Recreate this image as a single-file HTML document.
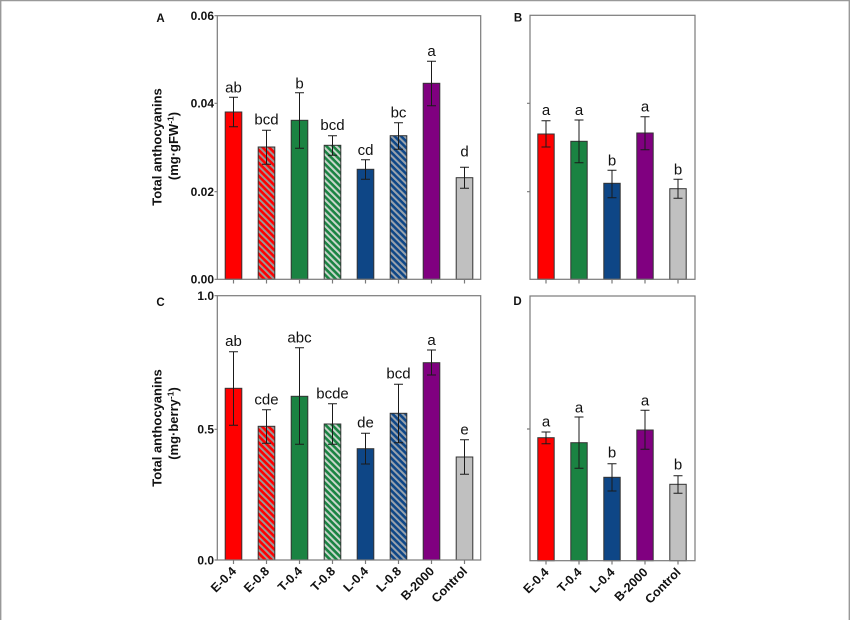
<!DOCTYPE html>
<html><head><meta charset="utf-8"><style>
html,body{margin:0;padding:0;background:#fff;}
svg{display:block;}
text{font-family:"Liberation Sans",Arial,sans-serif;}
</style></head><body>
<svg width="850" height="620" viewBox="0 0 850 620" xmlns="http://www.w3.org/2000/svg">
<defs>
<pattern id="hr" width="4.6" height="4.6" patternUnits="userSpaceOnUse" patternTransform="rotate(-45)">
<rect width="4.6" height="4.6" fill="#ff0000"/><rect width="2" height="4.6" fill="#9a9a9a"/></pattern>
<pattern id="hg" width="4.6" height="4.6" patternUnits="userSpaceOnUse" patternTransform="rotate(-45)">
<rect width="4.6" height="4.6" fill="#1a8342"/><rect width="2" height="4.6" fill="#c9d6cc"/></pattern>
<pattern id="hb" width="4.6" height="4.6" patternUnits="userSpaceOnUse" patternTransform="rotate(-45)">
<rect width="4.6" height="4.6" fill="#0e4686"/><rect width="2" height="4.6" fill="#9aa3ad"/></pattern>
</defs>
<rect width="850" height="620" fill="#fff"/>
<!-- outer border -->
<line x1="0" y1="0.6" x2="850" y2="0.6" stroke="#999" stroke-width="1.3"/>
<line x1="0.7" y1="0" x2="0.7" y2="620" stroke="#999" stroke-width="1.4"/>
<line x1="849.3" y1="0" x2="849.3" y2="620" stroke="#999" stroke-width="1.4"/>

<g stroke="#333" stroke-width="1">
<!-- Panel A bars -->
<rect x="225.2" y="112" width="16.6" height="167.3" fill="#ff0000"/>
<rect x="258.2" y="147" width="16.6" height="132.3" fill="url(#hr)"/>
<rect x="291.2" y="120.3" width="16.6" height="159" fill="#1a8342"/>
<rect x="324.2" y="145.3" width="16.6" height="134" fill="url(#hg)"/>
<rect x="357.2" y="169.3" width="16.6" height="110" fill="#0e4686"/>
<rect x="390.2" y="135.7" width="16.6" height="143.6" fill="url(#hb)"/>
<rect x="423.2" y="83.3" width="16.6" height="196" fill="#800080"/>
<rect x="456.2" y="177.7" width="16.6" height="101.6" fill="#c0c0c0"/>
<!-- Panel C bars -->
<rect x="225.2" y="388.3" width="16.6" height="171.7" fill="#ff0000"/>
<rect x="258.2" y="426.3" width="16.6" height="133.7" fill="url(#hr)"/>
<rect x="291.2" y="396.3" width="16.6" height="163.7" fill="#1a8342"/>
<rect x="324.2" y="424" width="16.6" height="136" fill="url(#hg)"/>
<rect x="357.2" y="448.7" width="16.6" height="111.3" fill="#0e4686"/>
<rect x="390.2" y="413.3" width="16.6" height="146.7" fill="url(#hb)"/>
<rect x="423.2" y="362.7" width="16.6" height="197.3" fill="#800080"/>
<rect x="456.2" y="457" width="16.6" height="103" fill="#c0c0c0"/>
<!-- Panel B bars -->
<rect x="537.8" y="134" width="16.4" height="145.3" fill="#ff0000"/>
<rect x="570.8" y="141.3" width="16.4" height="138" fill="#1a8342"/>
<rect x="603.8" y="183.3" width="16.4" height="96" fill="#0e4686"/>
<rect x="636.8" y="133" width="16.4" height="146.3" fill="#800080"/>
<rect x="669.8" y="188.7" width="16.4" height="90.6" fill="#c0c0c0"/>
<!-- Panel D bars -->
<rect x="537.8" y="437.7" width="16.4" height="123" fill="#ff0000"/>
<rect x="570.8" y="442.7" width="16.4" height="118" fill="#1a8342"/>
<rect x="603.8" y="477.3" width="16.4" height="83.4" fill="#0e4686"/>
<rect x="636.8" y="430" width="16.4" height="130.7" fill="#800080"/>
<rect x="669.8" y="484.3" width="16.4" height="76.4" fill="#c0c0c0"/>
</g>

<!-- frames -->
<g fill="none" stroke="#7a7a7a" stroke-width="1.2">
<rect x="217.3" y="15.7" width="263.4" height="263.6"/>
<rect x="217.3" y="295.7" width="263.4" height="264.3"/>
<rect x="530" y="15.3" width="165" height="264"/>
<rect x="530" y="296" width="165" height="264.7"/>
<!-- ticks -->
<path d="M214.5 15.7H217.3M214.5 103.3H217.3M214.5 191.7H217.3M214.5 279.3H217.3"/>
<path d="M214.5 295.7H217.3M214.5 429.3H217.3M214.5 560H217.3"/>
<path d="M527 103.3H530M527 191.7H530M527 429H530"/>
<path d="M233.5 279.3V283.5M266.5 279.3V283.5M299.5 279.3V283.5M332.5 279.3V283.5M365.5 279.3V283.5M398.5 279.3V283.5M431.5 279.3V283.5M464.5 279.3V283.5"/>
<path d="M233.5 560V564M266.5 560V564M299.5 560V564M332.5 560V564M365.5 560V564M398.5 560V564M431.5 560V564M464.5 560V564"/>
<path d="M546 279.3V283.5M579 279.3V283.5M612 279.3V283.5M645 279.3V283.5M678 279.3V283.5"/>
<path d="M546 560.7V564.5M579 560.7V564.5M612 560.7V564.5M645 560.7V564.5M678 560.7V564.5"/>
</g>

<!-- error bars -->
<g stroke="#1a1a1a" stroke-width="1" fill="none">
<path d="M233.5 97.3V126.7M229 97.3H238M229 126.7H238"/>
<path d="M266.5 130.3V164.3M262 130.3H271M262 164.3H271"/>
<path d="M299.5 92.7V148.3M295 92.7H304M295 148.3H304"/>
<path d="M332.5 135.7V155.3M328 135.7H337M328 155.3H337"/>
<path d="M365.5 159.7V179.3M361 159.7H370M361 179.3H370"/>
<path d="M398.5 122.7V149.3M394 122.7H403M394 149.3H403"/>
<path d="M431.5 61.3V105.7M427 61.3H436M427 105.7H436"/>
<path d="M464.5 167.3V188.3M460 167.3H469M460 188.3H469"/>

<path d="M233.5 351.7V425.3M229 351.7H238M229 425.3H238"/>
<path d="M266.5 409.7V443.3M262 409.7H271M262 443.3H271"/>
<path d="M299.5 347.7V444.3M295 347.7H304M295 444.3H304"/>
<path d="M332.5 403.7V444.3M328 403.7H337M328 444.3H337"/>
<path d="M365.5 433.3V464M361 433.3H370M361 464H370"/>
<path d="M398.5 384.3V442.7M394 384.3H403M394 442.7H403"/>
<path d="M431.5 350V375M427 350H436M427 375H436"/>
<path d="M464.5 439.7V474.3M460 439.7H469M460 474.3H469"/>

<path d="M546 120.7V147M541.5 120.7H550.5M541.5 147H550.5"/>
<path d="M579 120V162.7M574.5 120H583.5M574.5 162.7H583.5"/>
<path d="M612 170.3V197.7M607.5 170.3H616.5M607.5 197.7H616.5"/>
<path d="M645 116.7V149.7M640.5 116.7H649.5M640.5 149.7H649.5"/>
<path d="M678 179.3V198.3M673.5 179.3H682.5M673.5 198.3H682.5"/>

<path d="M546 432V443.7M541.5 432H550.5M541.5 443.7H550.5"/>
<path d="M579 417V468.3M574.5 417H583.5M574.5 468.3H583.5"/>
<path d="M612 463.7V491M607.5 463.7H616.5M607.5 491H616.5"/>
<path d="M645 410.3V449.3M640.5 410.3H649.5M640.5 449.3H649.5"/>
<path d="M678 475.7V493.3M673.5 475.7H682.5M673.5 493.3H682.5"/>
</g>

<!-- significance letters -->
<g font-size="15" fill="#111" text-anchor="middle">
<text x="233.5" y="92.7">ab</text>
<text x="266.5" y="124.3">bcd</text>
<text x="299.5" y="88.3">b</text>
<text x="332.5" y="130">bcd</text>
<text x="365.5" y="155">cd</text>
<text x="398.5" y="117.3">bc</text>
<text x="431.5" y="56">a</text>
<text x="464.5" y="156.7">d</text>

<text x="233.5" y="346">ab</text>
<text x="266.5" y="404.3">cde</text>
<text x="299.5" y="342.7">abc</text>
<text x="332.5" y="398.3">bcde</text>
<text x="365.5" y="427.3">de</text>
<text x="398.5" y="378.7">bcd</text>
<text x="431.5" y="345">a</text>
<text x="464.5" y="434.3">e</text>

<text x="546" y="115">a</text>
<text x="579" y="115">a</text>
<text x="612" y="165.7">b</text>
<text x="645" y="111.7">a</text>
<text x="678" y="174.3">b</text>

<text x="546" y="426.7">a</text>
<text x="579" y="412.3">a</text>
<text x="612" y="457.7">b</text>
<text x="645" y="405.3">a</text>
<text x="678" y="469.3">b</text>
</g>

<!-- y tick labels -->
<g font-size="12" font-weight="bold" fill="#111" text-anchor="end">
<text x="214" y="20.2">0.06</text>
<text x="214" y="107.6">0.04</text>
<text x="214" y="196">0.02</text>
<text x="214" y="283.6">0.00</text>
<text x="214" y="300">1.0</text>
<text x="214" y="433.6">0.5</text>
<text x="214" y="564.3">0.0</text>
</g>

<!-- panel letters -->
<g font-size="11.5" font-weight="bold" fill="#111" text-anchor="middle">
<text x="160.5" y="22">A</text>
<text x="160.5" y="306">C</text>
<text x="518" y="21.7">B</text>
<text x="517.5" y="305">D</text>
</g>

<!-- y axis titles -->
<g font-size="13" font-weight="bold" fill="#111" text-anchor="middle">
<text transform="translate(161.5,147) rotate(-90)">Total anthocyanins</text>
<text transform="translate(178,146) rotate(-90)">(mg·gFW<tspan font-size="8.5" dy="-4.5">-1</tspan><tspan dy="4.5">)</tspan></text>
<text transform="translate(161.5,428) rotate(-90)">Total anthocyanins</text>
<text transform="translate(178,423.5) rotate(-90)">(mg·berry<tspan font-size="8.5" dy="-4.5">-1</tspan><tspan dy="4.5">)</tspan></text>
</g>

<!-- x labels -->
<g font-size="12.5" font-weight="bold" fill="#111" text-anchor="end">
<text transform="translate(237,572) rotate(-45)">E-0.4</text>
<text transform="translate(270,572) rotate(-45)">E-0.8</text>
<text transform="translate(303,572) rotate(-45)">T-0.4</text>
<text transform="translate(336,572) rotate(-45)">T-0.8</text>
<text transform="translate(369,572) rotate(-45)">L-0.4</text>
<text transform="translate(402,572) rotate(-45)">L-0.8</text>
<text transform="translate(435,572) rotate(-45)">B-2000</text>
<text transform="translate(468,572) rotate(-45)">Control</text>

<text transform="translate(549.5,573) rotate(-45)">E-0.4</text>
<text transform="translate(582.5,573) rotate(-45)">T-0.4</text>
<text transform="translate(615.5,573) rotate(-45)">L-0.4</text>
<text transform="translate(648.5,573) rotate(-45)">B-2000</text>
<text transform="translate(681.5,573) rotate(-45)">Control</text>
</g>
</svg>
</body></html>
